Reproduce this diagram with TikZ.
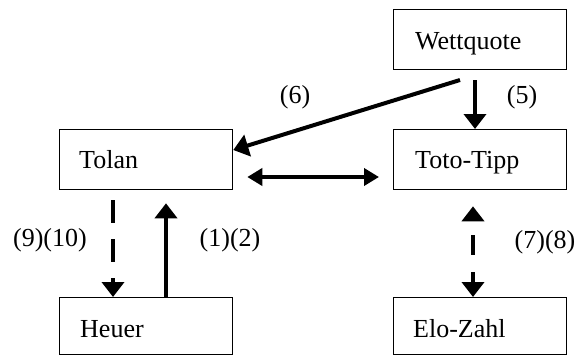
\documentclass[tikz,border=0pt]{standalone}
\usepackage{fontspec}
\setmainfont{Liberation Serif}
\usetikzlibrary{arrows.meta}
\tikzset{
  box/.style={draw, line width=1.3pt, rectangle, minimum width=173pt, minimum height=60pt,
    inner sep=0pt, anchor=north west},
  lbl/.style={font=\fontsize{26}{30}\selectfont, inner sep=0pt},
  txt/.style={font=\fontsize{26}{30}\selectfont, inner sep=0pt, anchor=base west},
  arr/.style={line width=4pt, -{Triangle[length=15pt,width=22pt]}},
  darr/.style={line width=4pt, {Triangle[length=15pt,width=17pt]}-{Triangle[length=15pt,width=17pt]}},
}
\begin{document}
\begin{tikzpicture}[x=1pt,y=-1pt]
\useasboundingbox (0,0) rectangle (582,356);
% boxes
\node[box] (wett) at (393,9) {};
\node[box] (tolan) at (59,129) {};
\node[box] (toto) at (393,129) {};
\node[box, minimum height=57pt] (heuer) at (59,297) {};
\node[box, minimum height=57pt] (elo) at (393,297) {};
% texts
\node[txt] (twett) at (415,49) {Wettquote};
\node[txt] (ttolan) at (79,168) {Tolan};
\node[txt] (ttoto) at (415,168) {Toto-Tipp};
\node[txt] (theuer) at (80,337) {Heuer};
\node[txt] (telo) at (413,337) {Elo-Zahl};
% labels
\node[lbl] (l6) at (295,97) {(6)};
\node[lbl] (l5) at (522,97) {(5)};
\node[lbl] (l910) at (50,240) {(9)(10)};
\node[lbl] (l12) at (230,240) {(1)(2)};
\node[lbl] (l78) at (545,242) {(7)(8)};
% connectors
\coordinate (w6) at (460,80);
\coordinate (w5) at (475,80);
\coordinate (c6) at (0,150);
\coordinate (cd) at (0,177);
\coordinate (x910) at (113,0);
\coordinate (x12) at (166,0);
\coordinate (x78) at (473,0);
\draw[arr] (w6) -- (tolan.east |- c6);
\draw[arr] (w5) -- (w5 |- toto.north);
\draw[darr] ([xshift=14pt]tolan.east |- cd) -- ([xshift=-14pt]toto.west |- cd);
\draw[arr, dash pattern=on 23pt off 16pt, shorten <=10pt] (x910 |- tolan.south) -- (x910 |- heuer.north);
\draw[arr, shorten >=13pt] (x12 |- heuer.north) -- (x12 |- tolan.south);
\draw[line width=4pt, {Triangle[length=15pt,width=22pt]}-{Triangle[length=15pt,width=22pt]},
  dash pattern=on 20pt off 17pt, dash phase=22pt, shorten <=16pt] (x78 |- toto.south) -- (x78 |- elo.north);
\end{tikzpicture}
\end{document}
